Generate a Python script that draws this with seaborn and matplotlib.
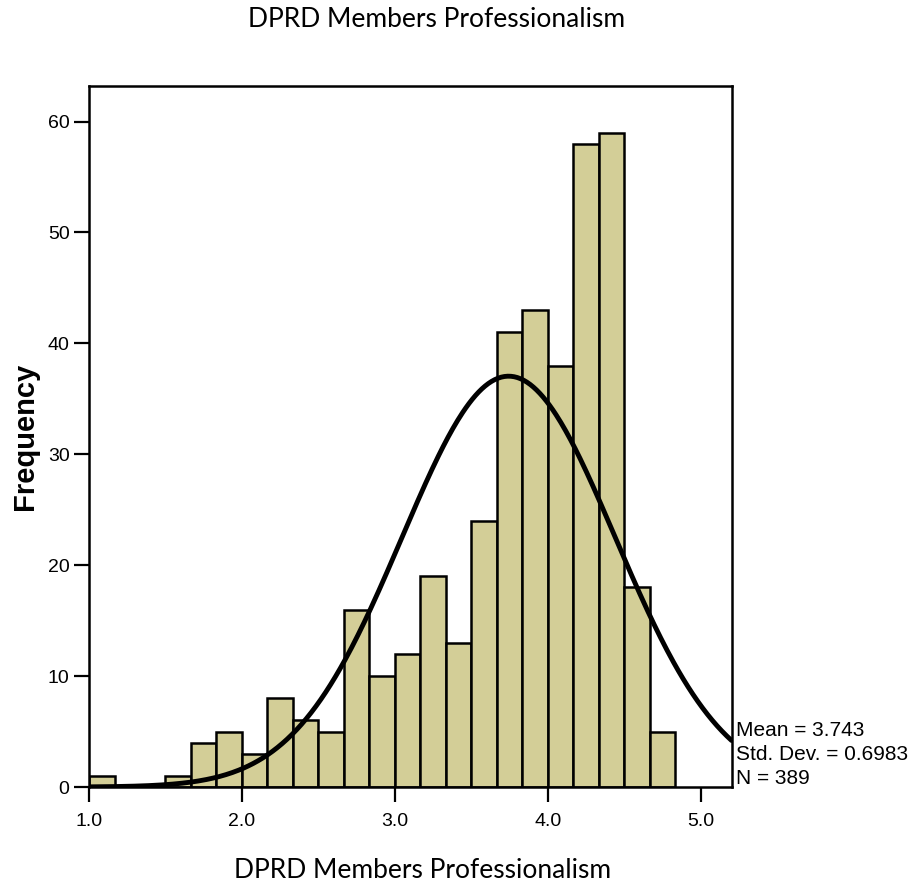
import numpy as np
import pandas as pd
import matplotlib
matplotlib.use("Agg")
import matplotlib.pyplot as plt
import seaborn as sns

# Data
bin_start = 1.0
bin_width = 1.0 / 6.0
counts = [1, 0, 0, 1, 4, 5, 3, 8, 6, 5, 16, 10, 12, 19, 13, 24, 41, 43, 38, 58, 59, 18, 5]
mean_val = 3.743
std_val = 0.6983
n_val = 389
x_ticks = [1.0, 2.0, 3.0, 4.0, 5.0]
y_ticks = [0, 10, 20, 30, 40, 50, 60]
title_text = "DPRD Members Professionalism"
xlabel_text = "DPRD Members Professionalism"
ylabel_text = "Frequency"

edges = bin_start + np.arange(len(counts) + 1) * bin_width
centers = (edges[:-1] + edges[1:]) / 2
df = pd.DataFrame({"value": centers, "count": counts})

sns.set_theme(style="white")
plt.rcParams["font.family"] = ["Liberation Sans", "DejaVu Sans"]
plt.rcParams["text.color"] = "black"
plt.rcParams["axes.labelcolor"] = "black"
plt.rcParams["xtick.color"] = "black"
plt.rcParams["ytick.color"] = "black"
plt.rcParams["xtick.labelsize"] = 14
plt.rcParams["ytick.labelsize"] = 14

fig = plt.figure(figsize=(9.12, 8.84), dpi=100)
ax = fig.add_axes([0.0976, 0.1097, 0.7050, 0.7930])

sns.histplot(data=df, x="value", weights="count", binwidth=bin_width,
             binrange=(float(edges[0]), float(edges[-1])), ax=ax,
             color="#d3ce97", edgecolor="black", linewidth=1.8, alpha=1.0)

xs = np.linspace(1.0, 5.2, 400)
ys = n_val * bin_width * np.exp(-0.5 * ((xs - mean_val) / std_val) ** 2) / (std_val * np.sqrt(2 * np.pi))
sns.lineplot(x=xs, y=ys, ax=ax, color="black", linewidth=3.5)

ax.set_xlim(1.0, 5.203)
ax.set_ylim(0, 63.2)
ax.set_xticks(x_ticks)
ax.set_xticklabels([f"{t:.1f}" for t in x_ticks])
ax.set_yticks(y_ticks)
ax.set_yticklabels([str(t) for t in y_ticks])
ax.tick_params(axis="x", direction="out", length=11, width=1.6, color="black",
               labelcolor="black", labelsize=14, bottom=True, pad=8)
ax.tick_params(axis="y", direction="out", length=11, width=1.6, color="black",
               labelcolor="black", labelsize=14, left=True, pad=3)
for s in ax.spines.values():
    s.set_color("black")
    s.set_linewidth(1.8)

ax.set_xlabel("")
ax.set_ylabel(ylabel_text, fontsize=21, fontweight="bold", color="black", labelpad=6)

fig.text(0.4786, 0.9785, title_text, ha="center", va="center", fontsize=19,
         family="Lato", color="black")
fig.text(0.4633, 0.0158, xlabel_text, ha="center", va="center", fontsize=19,
         family="Lato", color="black")

stats = [f"Mean = {mean_val}", f"Std. Dev. = {std_val}", f"N = {n_val}"]
for i, s in enumerate(stats):
    fig.text(0.8065, 1 - (731 + i * 24) / 884, s, ha="left", va="center",
             fontsize=15, color="black")

fig.savefig("out.png", dpi=100)
